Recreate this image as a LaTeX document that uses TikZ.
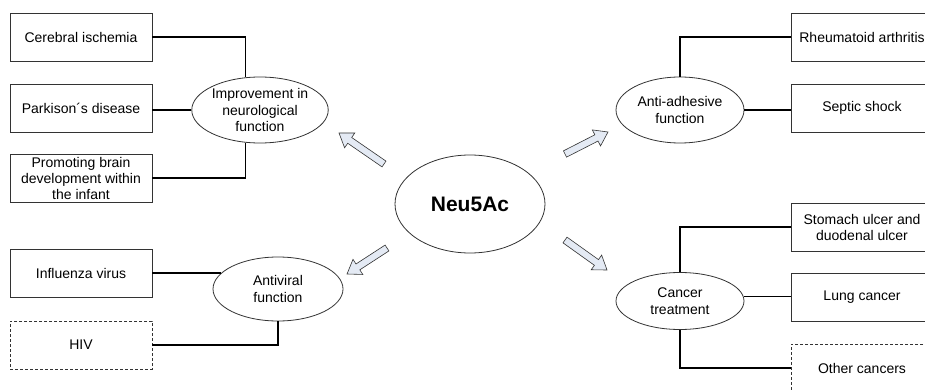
\documentclass[tikz,border=0pt]{standalone}
\usepackage{fontspec}
\setmainfont{Liberation Sans}
\usetikzlibrary{shapes.geometric,calc}
\definecolor{arrowfill}{HTML}{E4EAF4}
\definecolor{edge}{HTML}{333333}
\tikzset{
  effect/.style={draw=edge, line width=0.8pt, rectangle, minimum width=142pt, minimum height=48pt,
    inner sep=2pt, align=center, font=\fontsize{14}{16}\selectfont},
  maybe/.style={effect, dashed, dash pattern=on 3pt off 2pt},
  group/.style={draw=edge, line width=0.8pt, ellipse, inner sep=0pt, align=center,
    font=\fontsize{14}{16.5}\selectfont},
  link/.style={draw=black, line width=1.8pt},
  fatarrow/.style={draw=edge, line width=0.6pt, fill=arrowfill, line join=miter}
}
% hollow block arrow from #1 (tail) to #2 (tip)
\newcommand{\fatarrow}[2]{%
  \path (#1) coordinate (fa-a) (#2) coordinate (fa-b) ($(fa-b)!13pt!(fa-a)$) coordinate (fa-c);
  \draw[fatarrow] ($(fa-a)!3.5pt!90:(fa-b)$) -- ($(fa-c)!3.5pt!90:(fa-b)$)
    -- ($(fa-c)!9pt!90:(fa-b)$) -- (fa-b) -- ($(fa-c)!9pt!-90:(fa-b)$)
    -- ($(fa-c)!3.5pt!-90:(fa-b)$) -- ($(fa-a)!3.5pt!-90:(fa-b)$) -- cycle;}
\begin{document}
\begin{tikzpicture}[x=1pt,y=-1pt]
\clip (0,0) rectangle (925,390);
\fill[white] (0,0) rectangle (925,390);

% centre
\node[group, minimum width=150pt, minimum height=98pt, font=\fontsize{21}{24}\selectfont\bfseries]
  (neu) at (470,204) {Neu5Ac};

% neurological branch
\node[group, minimum width=121pt, minimum height=66pt] (imp) at (260,110)
  {Improvement in\\neurological\\function};
\node[effect] (cer) at (81,37) {Cerebral ischemia};
\node[effect] (par) at (81,108) {Parkison´s disease};
\node[effect] (pro) at (81,178) {Promoting brain\\development within\\the infant};
\draw[link] (cer.east) -| (imp.114);
\draw[link] (imp.west) -- (imp.west -| par.east);
\draw[link] (pro.east) -| (imp.246);

% anti-adhesive branch
\node[group, minimum width=128pt, minimum height=66pt] (anti) at (680,110) {Anti-adhesive\\function};
\node[effect] (rhe) at (862,37) {Rheumatoid arthritis};
\node[effect] (sep) at (862,108) {Septic shock};
\draw[link] (rhe.west) -| (anti.north);
\draw[link] (anti.east) -- (anti.east -| sep.west);

% antiviral branch
\node[group, minimum width=130pt, minimum height=64pt] (av) at (278,289) {Antiviral\\function};
\node[effect] (inf) at (81,273) {Influenza virus};
\node[maybe] (hiv) at (81,345) {HIV};
\draw[link] (av.164) -- (av.164 -| inf.east);
\draw[link] (hiv.east) -| (av.south);

% cancer branch
\node[group, minimum width=128pt, minimum height=57pt] (can) at (680,301) {Cancer\\treatment};
\node[effect] (sto) at (862,227) {Stomach ulcer and\\duodenal ulcer};
\node[effect] (lun) at (862,297) {Lung cancer};
\node[maybe] (oth) at (862,368) {Other cancers};
\draw[link] (sto.west) -| (can.north);
\draw[link] (can.4) -- (can.4 -| lun.west);
\draw[link] (oth.west) -| (can.south);

% block arrows from the centre
\coordinate (t1) at (384,164); \coordinate (h1) at (339,133);
\coordinate (t2) at (565,154); \coordinate (h2) at (608,132);
\coordinate (t3) at (387,248); \coordinate (h3) at (347,274);
\coordinate (t4) at (565,240); \coordinate (h4) at (607,270);
\fatarrow{t1}{h1}
\fatarrow{t2}{h2}
\fatarrow{t3}{h3}
\fatarrow{t4}{h4}
\end{tikzpicture}
\end{document}
